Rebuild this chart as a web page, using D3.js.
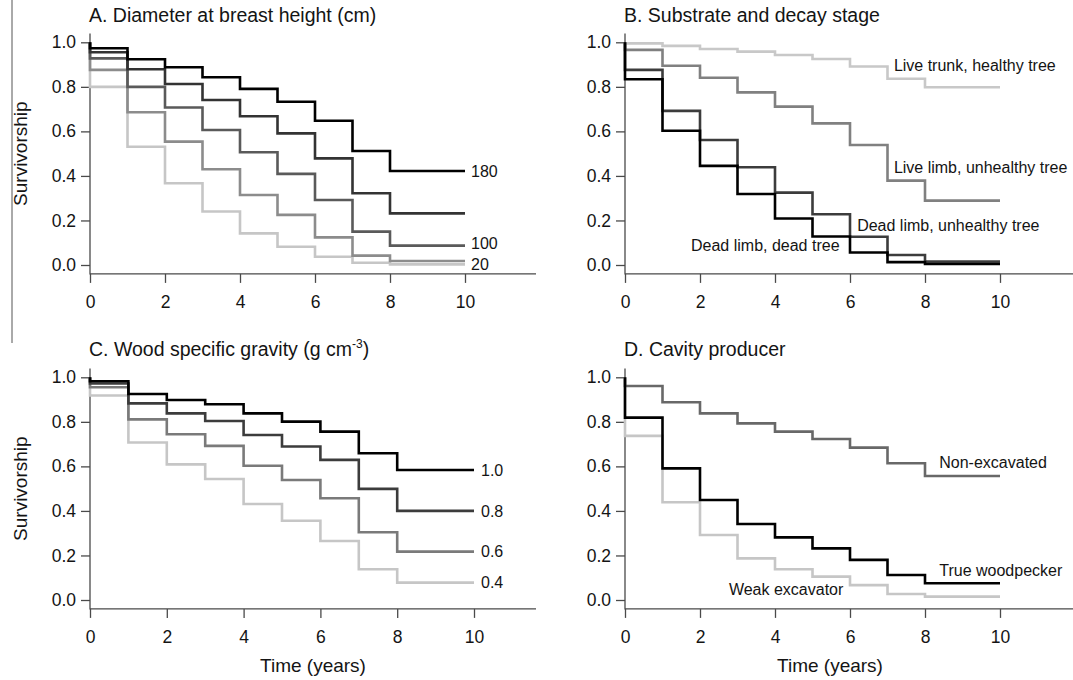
<!DOCTYPE html>
<html>
<head>
<meta charset="utf-8">
<script src="https://cdn.jsdelivr.net/npm/d3@7"></script>
<style>
body { margin: 0; background: #fff; }
svg { display: block; font-family: 'Liberation Sans', Arial, sans-serif; }
</style>
</head>
<body>
<script>
/* global d3 */

// Interval start times (years); last step is held until year 10
const years = [0, 1, 2, 3, 4, 5, 6, 7, 8];
const lastYear = 10;
const xTicks = [0, 2, 4, 6, 8, 10];
const yTicks = [0, 0.2, 0.4, 0.6, 0.8, 1.0];

// A. Diameter at breast height (cm)
const dbh180 = [0.973, 0.924, 0.888, 0.843, 0.791, 0.733, 0.648, 0.512, 0.422];
const dbh140 = [0.955, 0.879, 0.813, 0.741, 0.668, 0.591, 0.479, 0.322, 0.232];
const dbh100 = [0.928, 0.800, 0.707, 0.606, 0.506, 0.409, 0.292, 0.150, 0.087];
const dbh60 = [0.876, 0.686, 0.554, 0.430, 0.314, 0.225, 0.124, 0.042, 0.018];
const dbh20 = [0.800, 0.531, 0.367, 0.240, 0.142, 0.082, 0.037, 0.010, 0.003];

// B. Substrate and decay stage
const liveTrunk = [0.995, 0.984, 0.970, 0.958, 0.943, 0.925, 0.891, 0.836, 0.798];
const liveLimb = [0.966, 0.895, 0.841, 0.775, 0.711, 0.636, 0.539, 0.379, 0.289];
const deadLimbUnhealthy = [0.876, 0.692, 0.561, 0.439, 0.325, 0.228, 0.127, 0.045, 0.016];
const deadLimbDead = [0.834, 0.603, 0.445, 0.319, 0.209, 0.128, 0.056, 0.013, 0.005];

// C. Wood specific gravity
const sg10 = [0.982, 0.925, 0.898, 0.879, 0.838, 0.801, 0.756, 0.659, 0.584];
const sg08 = [0.972, 0.883, 0.838, 0.804, 0.741, 0.689, 0.629, 0.499, 0.400];
const sg06 = [0.955, 0.811, 0.744, 0.692, 0.603, 0.539, 0.457, 0.304, 0.217];
const sg04 = [0.918, 0.707, 0.609, 0.543, 0.431, 0.356, 0.265, 0.138, 0.078];

// D. Cavity producer
const nonExcavated = [0.961, 0.888, 0.838, 0.793, 0.756, 0.723, 0.684, 0.614, 0.557];
const trueWoodpecker = [0.819, 0.591, 0.449, 0.341, 0.281, 0.232, 0.180, 0.112, 0.075];
const weakExcavator = [0.737, 0.439, 0.292, 0.187, 0.138, 0.105, 0.067, 0.027, 0.015];

// Curve labels: [text, x (years), y (survivorship)]
const labelsA = [['180', 10, 0.422], ['100', 10, 0.097], ['20', 10, 0.003]];
const labelsB = [['Live trunk, healthy tree', 7.17, 0.895], ['Live limb, unhealthy tree', 7.17, 0.437],
    ['Dead limb, unhealthy tree', 6.19, 0.177], ['Dead limb, dead tree', 1.76, 0.09]];
const labelsC = [['1.0', 10, 0.584], ['0.8', 10, 0.400], ['0.6', 10, 0.217], ['0.4', 10, 0.078]];
const labelsD = [['Non-excavated', 8.38, 0.617], ['True woodpecker', 8.38, 0.135], ['Weak excavator', 2.77, 0.05]];

// SVG parameters
const svgWidth = 1073;
const svgHeight = 680;
const axisColor = '#4a4a4a';
const textColor = '#141414';

const panels = [
    { title: 'A. Diameter at breast height (cm)', left: 90, right: 465, y0: 265, y1: 42.3, edge: 536, titleY: 22,
      series: [[dbh20, '#c6c6c6'], [dbh60, '#8c8c8c'], [dbh100, '#5a5a5a'], [dbh140, '#333'], [dbh180, '#000']],
      labels: labelsA, labelOffset: 6, yLabel: true, xLabel: false },
    { title: 'B. Substrate and decay stage', left: 625, right: 1000, y0: 265, y1: 42.3, edge: 1073, titleY: 22,
      series: [[liveTrunk, '#c8c8c8'], [liveLimb, '#808080'], [deadLimbUnhealthy, '#3c3c3c'], [deadLimbDead, '#000']],
      labels: labelsB, labelOffset: 0, yLabel: false, xLabel: false },
    { title: 'C. Wood specific gravity (g cm', sup: '-3', left: 90, right: 474, y0: 600, y1: 377.3, edge: 536, titleY: 356,
      series: [[sg04, '#c6c6c6'], [sg06, '#7a7a7a'], [sg08, '#3c3c3c'], [sg10, '#000']],
      labels: labelsC, labelOffset: 7, yLabel: true, xLabel: true },
    { title: 'D. Cavity producer', left: 625, right: 1000, y0: 600, y1: 377.3, edge: 1073, titleY: 356,
      series: [[weakExcavator, '#c6c6c6'], [nonExcavated, '#686868'], [trueWoodpecker, '#000']],
      labels: labelsD, labelOffset: 0, yLabel: false, xLabel: true }
];

// SVG creation
const svg = d3.select('body')
.append('svg')
.attr('width', svgWidth)
.attr('height', svgHeight);

// thin rule at the far left of the upper panel
svg.append('line')
.attr('x1', 12).attr('x2', 12)
.attr('y1', 0).attr('y2', 343)
.attr('stroke', '#555')
.attr('stroke-width', 1);

panels.forEach(p => {
    const xScale = d3.scaleLinear()
    .domain([0, lastYear])
    .range([p.left, p.right]);

    const yScale = d3.scaleLinear()
    .domain([0, 1])
    .range([p.y0, p.y1]);

    const g = svg.append('g');
    const yBottom = yScale(-0.04);

    // L-shaped frame
    g.append('path')
    .attr('d', `M${xScale(0)},${yScale(1.04)}V${yBottom}H${p.edge}`)
    .attr('fill', 'none')
    .attr('stroke', axisColor)
    .attr('stroke-width', 1.3);

    const xAxis = d3.axisBottom(xScale)
    .tickValues(xTicks)
    .tickSize(9)
    .tickPadding(13);

    const yAxis = d3.axisLeft(yScale)
    .tickValues(yTicks)
    .tickFormat(d3.format('.1f'))
    .tickSize(9)
    .tickPadding(5);

    const gx = g.append('g')
    .attr('transform', `translate(0, ${yBottom})`)
    .call(xAxis);

    const gy = g.append('g')
    .attr('transform', `translate(${xScale(0)}, 0)`)
    .call(yAxis);

    [gx, gy].forEach(a => {
        a.select('.domain').remove();
        a.selectAll('line').attr('stroke', axisColor).attr('stroke-width', 1.3);
        a.selectAll('text')
        .attr('fill', textColor)
        .attr('font-size', 17.5)
        .attr('font-family', "'Liberation Sans', Arial, sans-serif");
    });

    // survival steps
    const line = d3.line()
    .x(d => xScale(d[0]))
    .y(d => yScale(d[1]))
    .curve(d3.curveStepAfter);

    p.series.forEach(([values, color]) => {
        const pts = [[0, 1]].concat(years.map((t, i) => [t, values[i]]), [[lastYear, values[values.length - 1]]]);
        g.append('path')
        .datum(pts)
        .attr('d', line)
        .attr('fill', 'none')
        .attr('stroke', color)
        .attr('stroke-width', 2.6);
    });

    g.selectAll('.curve-label')
    .data(p.labels)
    .enter()
    .append('text')
    .attr('class', 'curve-label')
    .attr('x', d => xScale(d[1]) + p.labelOffset)
    .attr('y', d => yScale(d[2]))
    .attr('dy', '0.36em')
    .attr('font-size', 16)
    .attr('fill', textColor)
    .text(d => d[0]);

    // title
    const title = g.append('text')
    .attr('x', xScale(0) - 1)
    .attr('y', p.titleY)
    .attr('font-size', 19.5)
    .attr('fill', textColor)
    .text(p.title);
    if (p.sup) {
        title.append('tspan').attr('dy', -8).attr('font-size', 12).text(p.sup);
        title.append('tspan').attr('dy', 8).text(')');
    }

    if (p.yLabel) {
        g.append('text')
        .attr('transform', `translate(27, ${(yScale(1.04) + yBottom) / 2}) rotate(-90)`)
        .attr('text-anchor', 'middle')
        .attr('font-size', 19)
        .attr('fill', textColor)
        .text('Survivorship');
    }

    if (p.xLabel) {
        g.append('text')
        .attr('x', (xScale(0) + p.edge - (p.edge > 1000 ? 38 : 0)) / 2)
        .attr('y', 672)
        .attr('text-anchor', 'middle')
        .attr('font-size', 19)
        .attr('fill', textColor)
        .text('Time (years)');
    }
});
</script>
</body>
</html>
